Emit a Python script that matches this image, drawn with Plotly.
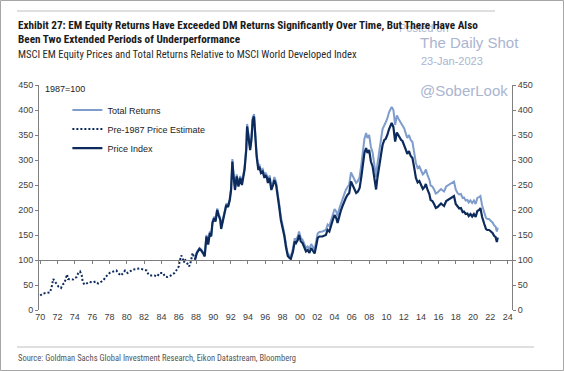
import plotly.graph_objects as go

# ---------------- data ----------------
pre_years = [1970.0, 1970.3, 1970.7, 1971.1, 1971.3, 1971.5, 1971.7, 1971.9, 1972.1, 1972.4,
             1972.6, 1972.8, 1973.0, 1973.1, 1973.2, 1973.5, 1973.8, 1974.0, 1974.2, 1974.4,
             1974.6, 1974.8, 1974.9, 1975.1, 1975.4, 1975.7, 1976.1, 1976.4, 1976.7, 1977.1,
             1977.4, 1977.8, 1978.1, 1978.4, 1978.8, 1979.0, 1979.3, 1979.6, 1979.8, 1980.1,
             1980.3, 1980.7, 1981.1, 1981.5, 1981.9, 1982.3, 1982.5, 1982.8, 1983.2, 1983.5,
             1983.8, 1984.2, 1984.4, 1984.7, 1985.1, 1985.5, 1985.8, 1986.0, 1986.1, 1986.3,
             1986.5, 1986.6, 1986.7, 1987.0, 1987.2, 1987.4, 1987.6, 1987.8, 1988.0]
pre_estimate = [29, 33, 34, 35, 44, 62, 57, 51, 47, 44,
                51, 54, 67, 71, 62, 62, 61, 64, 66, 74,
                77, 69, 57, 51, 54, 56, 55, 57, 53, 57,
                62, 71, 75, 77, 79, 74, 69, 74, 79, 74,
                77, 81, 82, 83, 81, 79, 71, 69, 69, 67,
                74, 74, 67, 66, 69, 74, 81, 87, 97, 109,
                101, 95, 102, 94, 87, 97, 114, 104, 100]

years = [1987.9, 1988.1, 1988.4, 1988.6, 1988.8, 1989.0, 1989.2, 1989.4, 1989.6, 1989.75,
         1989.9, 1990.1, 1990.25, 1990.45, 1990.6, 1990.8, 1990.9, 1991.1, 1991.3, 1991.5,
         1991.7, 1991.9, 1992.05, 1992.2, 1992.3, 1992.5, 1992.7, 1992.9, 1993.1, 1993.3,
         1993.6, 1993.8, 1993.9, 1994.05, 1994.25, 1994.4, 1994.55, 1994.7, 1994.8, 1995.0,
         1995.2, 1995.3, 1995.5, 1995.7, 1995.9, 1996.0, 1996.2, 1996.3, 1996.5, 1996.7,
         1996.9, 1997.05, 1997.25, 1997.4, 1997.6, 1997.8, 1998.0, 1998.2, 1998.4, 1998.6,
         1998.8, 1998.95, 1999.2, 1999.4, 1999.55, 1999.75, 1999.9, 2000.1, 2000.3, 2000.5,
         2000.7, 2000.9, 2001.1, 2001.3, 2001.5, 2001.7, 2001.9, 2002.05, 2002.25, 2002.6,
         2003.0, 2003.2, 2003.4, 2003.6, 2003.8, 2004.0, 2004.2, 2004.35, 2004.55, 2004.75,
         2004.9, 2005.1, 2005.3, 2005.5, 2005.7, 2005.9, 2006.1, 2006.3, 2006.5, 2006.7,
         2006.9, 2007.1, 2007.25, 2007.45, 2007.65, 2007.8, 2008.0, 2008.2, 2008.4, 2008.6,
         2008.8, 2008.95, 2009.2, 2009.4, 2009.55, 2009.75, 2009.9, 2010.1, 2010.3, 2010.6,
         2010.8, 2011.0, 2011.2, 2011.4, 2011.7, 2011.85, 2012.05, 2012.25, 2012.4, 2012.6,
         2012.8, 2013.0, 2013.2, 2013.4, 2013.6, 2013.8, 2014.0, 2014.2, 2014.4, 2014.55,
         2014.75, 2014.95, 2015.1, 2015.3, 2015.5, 2015.7, 2015.9, 2016.1, 2016.3, 2016.5,
         2016.65, 2016.9, 2017.25, 2017.6, 2017.8, 2018.0, 2018.2, 2018.4, 2018.6, 2018.8,
         2018.95, 2019.15, 2019.35, 2019.5, 2019.7, 2019.9, 2020.1, 2020.3, 2020.5, 2020.7,
         2020.85, 2021.05, 2021.3, 2021.5, 2021.65, 2021.85, 2022.0, 2022.25, 2022.45, 2022.6,
         2022.75, 2022.85]

price_index = [102, 114, 122, 119, 114, 107, 147, 131, 154, 147,
               174, 184, 177, 200, 190, 180, 162, 180, 194, 210,
               206, 220, 240, 297, 274, 240, 267, 247, 264, 250,
               280, 320, 367, 347, 320, 340, 380, 387, 360, 307,
               280, 287, 274, 277, 264, 270, 264, 254, 264, 240,
               250, 260, 250, 227, 207, 180, 165, 148, 125, 108,
               104, 102, 117, 137, 134, 140, 150, 137, 134, 124,
               117, 120, 114, 124, 117, 113, 130, 144, 147, 147,
               150, 160, 157, 170, 180, 190, 184, 174, 190, 200,
               207, 217, 224, 230, 234, 257, 250, 244, 234, 237,
               244, 267, 290, 314, 324, 314, 320, 297, 287, 264,
               241, 264, 297, 314, 330, 340, 342, 350, 362, 374,
               366, 337, 355, 348, 340, 338, 330, 320, 312, 318,
               308, 304, 285, 264, 255, 258, 250, 242, 246, 252,
               240, 232, 220, 218, 212, 204, 206, 210, 213, 210,
               208, 218, 222, 225, 228, 212, 206, 203, 204, 196,
               197, 192, 193, 188, 192, 187, 192, 186, 198, 200,
               204, 186, 172, 162, 160, 160, 158, 154, 148, 146,
               136, 145]

total_returns = [103, 116, 124, 121, 116, 109, 150, 134, 157, 150,
                 177, 187, 180, 203, 193, 183, 165, 183, 197, 213,
                 209, 223, 243, 302, 278, 244, 271, 251, 268, 254,
                 284, 325, 372, 352, 325, 345, 385, 392, 365, 312,
                 285, 292, 279, 282, 269, 275, 269, 259, 269, 245,
                 255, 266, 256, 233, 213, 186, 170, 153, 130, 113,
                 109, 107, 123, 143, 140, 147, 157, 144, 141, 131,
                 124, 127, 122, 132, 125, 121, 139, 153, 156, 157,
                 160, 171, 168, 181, 192, 202, 197, 187, 203, 214,
                 221, 232, 240, 246, 251, 275, 269, 263, 254, 258,
                 266, 291, 316, 342, 354, 344, 350, 326, 315, 291,
                 266, 292, 327, 345, 362, 372, 375, 383, 396, 406,
                 400, 370, 389, 382, 374, 371, 363, 352, 344, 350,
                 340, 336, 316, 294, 284, 287, 279, 271, 275, 281,
                 269, 261, 249, 247, 241, 233, 235, 239, 242, 239,
                 237, 247, 251, 254, 257, 241, 234, 231, 232, 224,
                 225, 219, 220, 215, 219, 214, 219, 212, 224, 226,
                 228, 209, 194, 184, 182, 182, 179, 175, 169, 167,
                 157, 165]

x_tick_vals = list(range(1970, 2025, 2))
x_tick_text = ["70", "72", "74", "76", "78", "80", "82", "84", "86", "88", "90", "92", "94",
               "96", "98", "00", "02", "04", "06", "08", "10", "12", "14", "16", "18", "20",
               "22", "24"]
y_tick_vals = [0, 50, 100, 150, 200, 250, 300, 350, 400, 450]

# ---------------- styling ----------------
LIGHT = "#7f9dcc"
DARK = "#0c2b5c"
NARROW = "Liberation Sans Narrow, Arial Narrow, Roboto Condensed, DejaVu Sans Condensed, sans-serif"
SANS = "Liberation Sans, Arial, sans-serif"
XR = [1969.86, 2024.5]
YR = [0, 450]

fig = go.Figure()
fig.add_trace(go.Scatter(x=years, y=total_returns, mode="lines", name="Total Returns",
                         line=dict(color=LIGHT, width=2)))
fig.add_trace(go.Scatter(x=pre_years, y=pre_estimate, mode="lines", name="Pre-1987 Price Estimate",
                         line=dict(color=DARK, width=2, dash="2px,2px")))
fig.add_trace(go.Scatter(x=years, y=price_index, mode="lines", name="Price Index",
                         line=dict(color=DARK, width=2.2)))
# carrier trace for the secondary axes (x axis line at 100, right-hand y axis)
fig.add_trace(go.Scatter(x=[None], y=[None], xaxis="x2", yaxis="y2", showlegend=False,
                         hoverinfo="skip"))

tick_font = dict(family=SANS, size=9, color="#404040")

fig.update_layout(
    width=564, height=371,
    margin=dict(l=39, r=52, t=85, b=61),
    paper_bgcolor="white", plot_bgcolor="white",
    showlegend=True,
    legend=dict(x=0.06, y=0.953, xanchor="left", yanchor="top",
                font=dict(family=SANS, size=9, color="#222"),
                bgcolor="rgba(0,0,0,0)", itemwidth=30, tracegroupgap=0),
    xaxis=dict(range=XR, tickvals=x_tick_vals, ticktext=x_tick_text, showline=False,
               showgrid=False, zeroline=False, ticks="", tickfont=tick_font, fixedrange=True),
    xaxis2=dict(range=XR, overlaying="x", anchor="free", position=100 / 450, side="bottom",
                tickvals=x_tick_vals, showticklabels=False, showline=True, linecolor="#7f7f7f",
                linewidth=1, ticks="outside", ticklen=3, tickcolor="#7f7f7f", showgrid=False,
                zeroline=False),
    yaxis=dict(range=YR, tickvals=y_tick_vals, showline=True, linecolor="#7f7f7f", linewidth=1,
               ticks="outside", ticklen=3, tickcolor="#7f7f7f", showgrid=False, zeroline=False,
               tickfont=tick_font),
    yaxis2=dict(range=YR, overlaying="y", side="right", tickvals=y_tick_vals, showline=True,
                linecolor="#7f7f7f", linewidth=1, ticks="outside", ticklen=3,
                tickcolor="#7f7f7f", showgrid=False, zeroline=False, tickfont=tick_font),
)


def px_x(p):
    return (p - 39) / 473


def px_y(p):
    return (310 - p) / 225


WM = "#aab5d0"
annotations = [
    dict(text="Posted on", x=px_x(397), y=px_y(28), font=dict(family=SANS, size=11, color=WM)),
    dict(text="The Daily Shot", x=px_x(418), y=px_y(43), font=dict(family=SANS, size=15, color=WM)),
    dict(text="23-Jan-2023", x=px_x(419), y=px_y(61), font=dict(family=SANS, size=11, color=WM)),
    dict(text="@SoberLook", x=px_x(418), y=px_y(91), font=dict(family=SANS, size=15, color=WM)),
    dict(text="<b>Exhibit 27: EM Equity Returns Have Exceeded DM Returns Significantly Over Time, But There Have Also</b>",
         x=px_x(16), y=px_y(25), font=dict(family=NARROW, size=11.2, color="#1a1a1a")),
    dict(text="<b>Been Two Extended Periods of Underperformance</b>",
         x=px_x(16), y=px_y(39), font=dict(family=NARROW, size=11.2, color="#1a1a1a")),
    dict(text="MSCI EM Equity Prices and Total Returns Relative to MSCI World Developed Index",
         x=px_x(16), y=px_y(54), font=dict(family=NARROW, size=10.6, color="#2a2a2a")),
    dict(text="1987=100", x=px_x(43), y=px_y(89), font=dict(family=SANS, size=9, color="#222")),
    dict(text="Source: Goldman Sachs Global Investment Research, Eikon Datastream, Bloomberg",
         x=px_x(16), y=px_y(358), font=dict(family=NARROW, size=8.5, color="#555")),
]
for a in annotations:
    a.update(xref="paper", yref="paper", xanchor="left", yanchor="middle", showarrow=False)
fig.update_layout(annotations=annotations)

shapes = [
    dict(type="line", x0=px_x(17), x1=px_x(495), y0=px_y(11), y1=px_y(11),
         line=dict(color="#d4d4d4", width=1.5)),
    dict(type="line", x0=px_x(17), x1=px_x(534), y0=px_y(347), y1=px_y(347),
         line=dict(color="#d4d4d4", width=1.5)),
    dict(type="rect", x0=px_x(0.5), x1=px_x(563.5), y0=px_y(370.5), y1=px_y(0.5),
         line=dict(color="#a6a6a6", width=1)),
]
for s in shapes:
    s.update(xref="paper", yref="paper", layer="above")
fig.update_layout(shapes=shapes)

fig.write_html("out.html", config={"displayModeBar": False},
               post_script="document.body.style.margin='0';")
